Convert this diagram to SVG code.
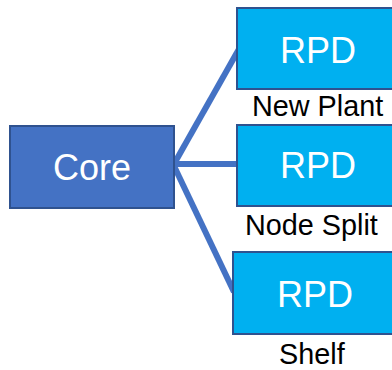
<svg xmlns="http://www.w3.org/2000/svg" width="392" height="370" viewBox="0 0 392 370">
<style>
.core{fill:#4472C4;stroke:#2F528F;stroke-width:2}
.rpd{fill:#00B0F0;stroke:#2F528F;stroke-width:2}
.t{font-family:"Liberation Sans",Arial,sans-serif;fill:#fff;font-size:36px;text-anchor:middle}
.l{font-family:"Liberation Sans",Arial,sans-serif;fill:#000;font-size:28.8px}
.c{stroke:#4472C4;stroke-width:6;fill:none}
</style>
<rect width="392" height="370" fill="#fff"/>
<g id="connectors">
<line class="c" x1="174" y1="164" x2="239" y2="49"/>
<line class="c" x1="174" y1="164" x2="237" y2="164"/>
<line class="c" x1="174" y1="166" x2="234" y2="292"/>
</g>
<g id="core">
<rect class="core" x="10" y="126" width="164" height="82"/>
<text class="t" x="92" y="180">Core</text>
</g>
<g id="rpd1">
<rect class="rpd" x="237" y="8" width="160" height="81"/>
<text class="t" x="318" y="63">RPD</text>
<text class="l" x="252" y="116">New Plant</text>
</g>
<g id="rpd2">
<rect class="rpd" x="237" y="125" width="160" height="81"/>
<text class="t" x="318" y="178">RPD</text>
<text class="l" x="245" y="235">Node Split</text>
</g>
<g id="rpd3">
<rect class="rpd" x="233" y="252" width="165" height="82"/>
<text class="t" x="315" y="307">RPD</text>
<text class="l" x="279" y="364">Shelf</text>
</g>
</svg>
